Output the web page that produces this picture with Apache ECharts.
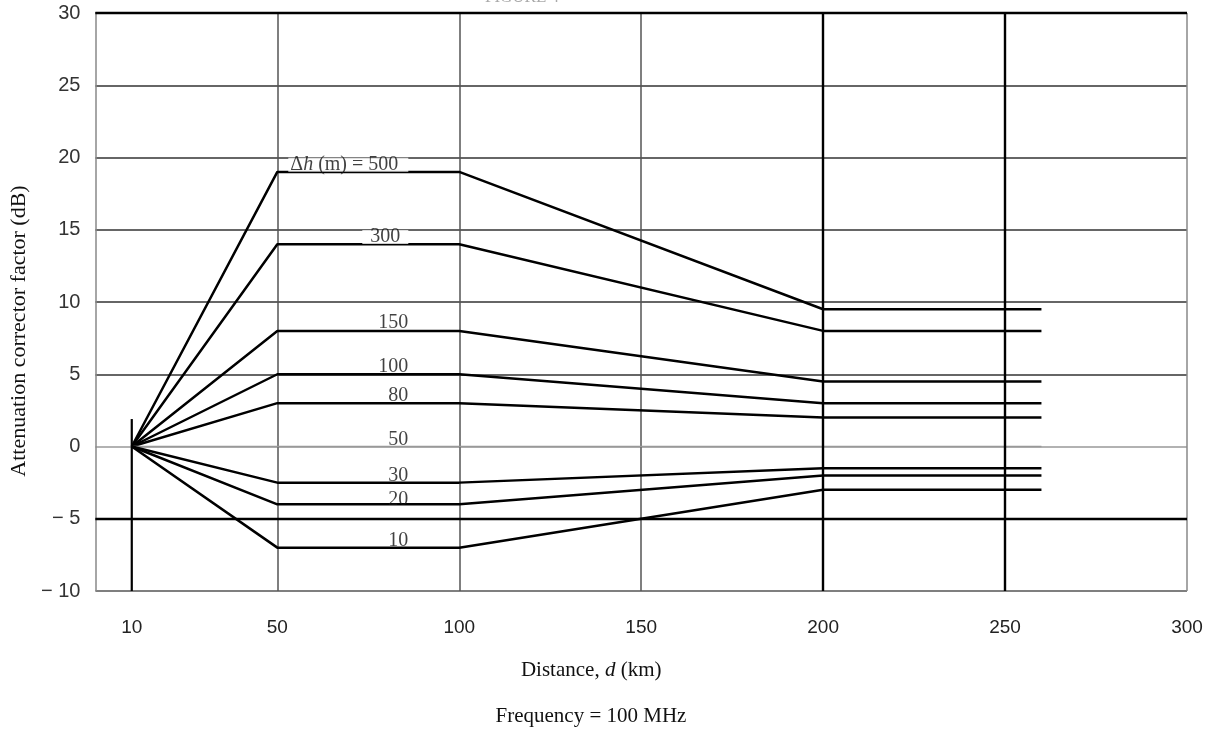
<!DOCTYPE html>
<html>
<head>
<meta charset="utf-8">
<title>Attenuation correction factor vs distance</title>
<script src="https://cdn.jsdelivr.net/npm/echarts@6/dist/echarts.min.js"></script>
<style>
  html, body { margin: 0; padding: 0; background: #fff; }
  #chart { width: 1218px; height: 729px; }
</style>
</head>
<body>
<div id="chart"></div>
<script>
// Distance breakpoints (km) shared by every curve
const distances = [10, 50, 100, 200, 260];

// Terrain irregularity Δh (m) for each curve
const deltaH = ['500', '300', '150', '100', '80', '50', '30', '20', '10'];

// Correction factor (dB) at each distance breakpoint
const dh500 = [0, 19, 19, 9.5, 9.5];
const dh300 = [0, 14, 14, 8, 8];
const dh150 = [0, 8, 8, 4.5, 4.5];
const dh100 = [0, 5, 5, 3, 3];
const dh80  = [0, 3, 3, 2, 2];
const dh50  = [0, 0, 0, 0, 0];
const dh30  = [0, -2.5, -2.5, -1.5, -1.5];
const dh20  = [0, -4, -4, -2, -2];
const dh10  = [0, -7, -7, -3, -3];

const curves = [dh500, dh300, dh150, dh100, dh80, dh50, dh30, dh20, dh10];

// Where each Δh label sits (distance, dB)
const labelDistance = 86;
const labelLevels = [19.5, 14.5, 8.55, 5.5, 3.5, 0.45, -2.05, -3.7, -6.55];

// Axis tick labels
const xTickValues = [10, 50, 100, 150, 200, 250, 300];

const serif = '"Liberation Serif", "Times New Roman", serif';
const sans = '"Liberation Sans", Arial, sans-serif';

const lineSeries = curves.map((vals, i) => ({
  name: 'Δh = ' + deltaH[i] + ' m',
  type: 'line',
  data: distances.map((d, j) => [d, vals[j]]),
  symbol: 'none',
  silent: true,
  z: 3,
  lineStyle: {
    color: deltaH[i] === '50' ? '#999' : '#000',
    width: deltaH[i] === '50' ? 1.5 : 2.5
  }
}));

const labelSeries = {
  type: 'scatter',
  symbolSize: 0,
  silent: true,
  z: 6,
  data: deltaH.map((h, i) => ({
    value: [labelDistance, labelLevels[i]],
    label: (i < 2) ? {
      backgroundColor: '#fff',
      padding: i === 0 ? [0, 10, 0, 2] : [0, 8, 0, 8],
      lineHeight: 14
    } : {}
  })),
  label: {
    show: true,
    position: 'inside',
    align: 'right',
    verticalAlign: 'middle',
    fontFamily: serif,
    fontSize: 20,
    color: '#111',
    formatter: (p) => {
      const idx = p.dataIndex;
      return idx === 0 ? 'Δ{i|h} (m) = ' + deltaH[idx] : deltaH[idx];
    },
    rich: {
      i: { fontFamily: serif, fontStyle: 'italic', fontSize: 20, color: '#111' }
    }
  }
};

// Heavy reference lines of the grid plus the short vertical at 10 km
const frameSeries = {
  type: 'line',
  data: [[10, 1.9], [10, -10]],
  symbol: 'none',
  silent: true,
  z: 4,
  lineStyle: { color: '#000', width: 2.2 },
  markLine: {
    silent: true,
    symbol: 'none',
    label: { show: false },
    lineStyle: { color: '#000', width: 2.4, type: 'solid' },
    data: [
      { xAxis: 200 },
      { xAxis: 250 },
      { yAxis: -5 },
      { yAxis: 30 }
    ]
  }
};

const chart = echarts.init(document.getElementById('chart'));
chart.setOption({
  backgroundColor: '#fff',
  animation: false,
  title: [
    {
      text: 'FIGURE 4',
      left: 517,
      top: -16,
      textAlign: 'center',
      textStyle: { fontFamily: serif, fontSize: 17, fontWeight: 'normal', color: '#aaa' }
    },
    {
      text: 'Frequency = 100 MHz',
      left: 586,
      top: 701,
      textAlign: 'center',
      textStyle: { fontFamily: serif, fontSize: 21, fontWeight: 'normal', color: '#111' }
    }
  ],
  grid: { left: 95, right: 31, top: 13, bottom: 138, containLabel: false },
  xAxis: {
    type: 'value',
    min: 0,
    max: 300,
    interval: 50,
    name: 'Distance, {i|d} (km)',
    nameLocation: 'middle',
    nameGap: 69,
    nameTextStyle: {
      fontFamily: serif,
      fontSize: 21,
      color: '#111',
      padding: [0, 100, 0, 0],
      rich: { i: { fontFamily: serif, fontStyle: 'italic', fontSize: 21, color: '#111' } }
    },
    axisLine: { show: false },
    axisTick: { show: false },
    axisLabel: {
      customValues: xTickValues,
      margin: 27,
      fontFamily: sans,
      fontSize: 19,
      color: '#222'
    },
    splitLine: {
      show: true,
      lineStyle: { color: ['#888', '#555', '#555', '#555', '#000', '#000', '#888'], width: 1.5 }
    }
  },
  yAxis: {
    type: 'value',
    min: -10,
    max: 30,
    interval: 5,
    name: 'Attenuation corrector factor (dB)',
    nameLocation: 'middle',
    nameGap: 60,
    nameRotate: 90,
    nameTextStyle: {
      fontFamily: serif,
      fontSize: 22,
      color: '#111',
      padding: [0, 58, 0, 0]
    },
    axisLine: { show: false },
    axisTick: { show: false },
    axisLabel: {
      margin: 15,
      fontFamily: sans,
      fontSize: 20,
      color: '#333',
      formatter: (v) => (v < 0 ? '− ' + Math.abs(v) : String(v))
    },
    splitLine: {
      show: true,
      lineStyle: {
        color: ['#555', '#000', '#999', '#333', '#333', '#333', '#333', '#333', '#000'],
        width: 1.5
      }
    }
  },
  series: [frameSeries].concat(lineSeries, [labelSeries])
});
</script>
</body>
</html>
